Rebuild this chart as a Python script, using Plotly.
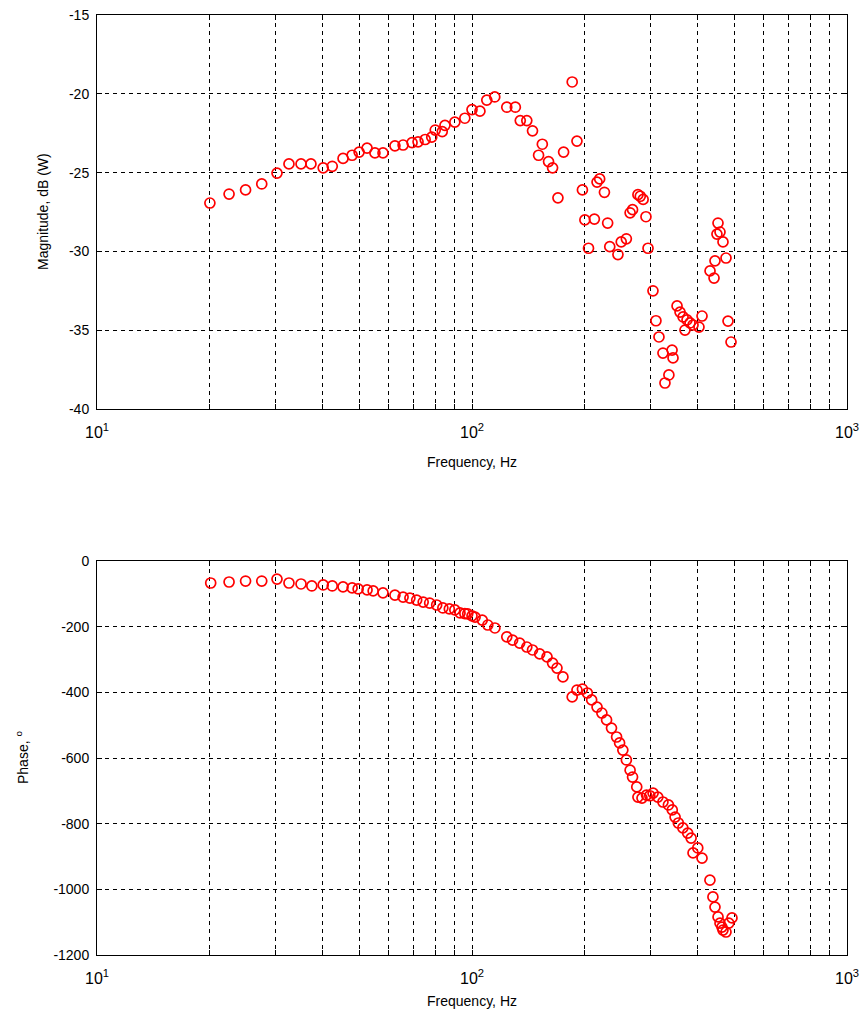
import plotly.graph_objects as go

# Magnitude data (Hz, dB)
mag_freq = [20.0, 22.5, 24.9, 27.5, 30.2, 32.5, 35.0, 37.2, 40.1, 42.4, 45.3, 47.9, 50.0, 52.5, 55.1,
            57.9, 62.3, 65.5, 69.2, 71.8, 75.0, 78.1, 79.8, 83.3, 84.7, 90.0, 95.7, 100, 105, 109.5,
            115, 123.8, 130.5, 134.5, 140, 145, 150.5, 154, 160, 164, 169.5, 175.5, 185, 190.5, 197,
            200, 204.5, 212, 215.5, 219, 225.5, 230, 233, 245, 250, 258, 264, 268, 277, 281,
            286, 291, 294.7, 303.8, 309.4, 315.2, 323, 327, 335, 341.6, 343.6, 352.2, 358.7, 365.5, 369.8,
            374.4, 381.4, 388.5, 403, 410.6, 431.3, 442, 444.6, 450, 452.9, 458.5, 467, 475.7, 481.6, 490.6]
mag_db = [-26.93, -26.36, -26.1, -25.72, -25.03, -24.45, -24.45, -24.45, -24.7, -24.6, -24.1, -23.9, -23.7, -23.45, -23.75,
          -23.75, -23.3, -23.25, -23.1, -23.05, -22.9, -22.75, -22.3, -22.4, -22.0, -21.8, -21.55, -21.0, -21.1, -20.4,
          -20.2, -20.85, -20.85, -21.7, -21.7, -22.35, -23.9, -23.2, -24.3, -24.7, -26.6, -23.7, -19.25, -23.0, -26.1,
          -28.0, -29.8, -27.95, -25.6, -25.4, -26.25, -28.2, -29.7, -30.2, -29.4, -29.2, -27.55, -27.35, -26.4, -26.5,
          -26.7, -27.8, -29.8, -32.5, -34.4, -35.43, -36.45, -38.35, -37.84, -36.26, -36.76, -33.46, -33.85, -34.16, -34.99,
          -34.35, -34.54, -34.67, -34.8, -34.1, -31.24, -31.69, -30.6, -28.9, -28.2, -28.77, -29.4, -30.42, -34.42, -35.75]

# Phase data (Hz, degrees)
ph_freq = [20.1, 22.5, 24.9, 27.5, 30.2, 32.5, 35.0, 37.4, 40.1, 42.4, 45.3, 47.9, 49.7, 52.5, 54.5,
           57.9, 62.3, 65.5, 68.3, 71.2, 74.1, 77.1, 80.5, 83.6, 87.0, 90.0, 92.9, 95.7, 97.4, 100.0,
           101.9, 106.5, 110.2, 115.1, 123.8, 128.3, 134.0, 140.0, 145.0, 151.5, 158.5, 164.0, 168.5, 174.8, 185.0,
           190.5, 197.0, 203.0, 208.5, 215.5, 222.0, 228.5, 235.5, 243.0, 247.5, 252.5, 258.0, 264.0, 268.0, 275.0,
           277.0, 284.0, 292.0, 298.0, 304.0, 313.0, 323.0, 334.0, 342.0, 348.0, 355.0, 365.0, 376.0, 384.0, 388.5,
           400.0, 410.6, 431.0, 439.0, 444.6, 453.0, 458.5, 464.0, 467.0, 475.7, 484.0, 493.5]
ph_deg = [-67, -64, -61, -61, -55, -67, -70, -76, -73, -76, -79, -82, -85, -88, -91,
          -97, -104, -110, -113, -119, -125, -128, -134, -143, -146, -149, -158, -160, -161, -167,
          -171, -180, -195, -204, -231, -241, -250, -262, -271, -283, -292, -311, -326, -353, -414,
          -393, -390, -402, -423, -445, -463, -484, -509, -536, -554, -576, -606, -637, -658, -688,
          -719, -722, -713, -715, -707, -719, -734, -743, -758, -780, -798, -813, -829, -844, -889,
          -874, -905, -972, -1023, -1054, -1084, -1103, -1115, -1124, -1130, -1103, -1087]

x_tickvals = [10, 20, 30, 40, 50, 60, 70, 80, 90, 100, 200, 300, 400, 500, 600, 700, 800, 900, 1000]
decade_labels = {10: "10<sup>1</sup>", 100: "10<sup>2</sup>", 1000: "10<sup>3</sup>"}
x_ticktext = [decade_labels.get(v, "") for v in x_tickvals]
mag_ticks = [-40, -35, -30, -25, -20, -15]
ph_ticks = [-1200, -1000, -800, -600, -400, -200, 0]

W, H = 865, 1016
fig = go.Figure()
marker = dict(symbol="circle-open", size=10, color="#ff0000", line=dict(width=1.7, color="#ff0000"))
fig.add_trace(go.Scatter(x=mag_freq, y=mag_db, mode="markers", marker=marker, xaxis="x", yaxis="y", showlegend=False))
fig.add_trace(go.Scatter(x=ph_freq, y=ph_deg, mode="markers", marker=marker, xaxis="x2", yaxis="y2", showlegend=False))

font = dict(family="Liberation Sans, Arial, sans-serif", size=14, color="#000000")
xfont = dict(family="Liberation Sans, Arial, sans-serif", size=16, color="#000000")
xd = [97 / W, 847 / W]
grid = dict(showgrid=True, gridcolor="#000000", gridwidth=1, griddash="4px,4px",
            showline=True, linecolor="#000000", linewidth=1, mirror="ticks",
            ticks="inside", ticklen=5, tickcolor="#000000", zeroline=False,
            automargin=False)
common_x = dict(type="log", range=[1, 3], tickmode="array", tickvals=x_tickvals, ticktext=x_ticktext,
                ticklabelstandoff=9, tickfont=xfont, domain=xd, **grid)
common_y = dict(tickmode="array", ticklabelstandoff=4, tickfont=font, **grid)

fig.update_layout(
    width=W, height=H, margin=dict(l=0, r=0, t=0, b=0),
    paper_bgcolor="#ffffff", plot_bgcolor="#ffffff",
    xaxis=dict(**common_x, anchor="y"),
    yaxis=dict(**common_y, range=[-40, -15], tickvals=mag_ticks, ticktext=[str(v) for v in mag_ticks],
               domain=[1 - 409 / H, 1 - 15 / H], anchor="x"),
    xaxis2=dict(**common_x, anchor="y2"),
    yaxis2=dict(**common_y, range=[-1200, 0], tickvals=ph_ticks, ticktext=[str(v) for v in ph_ticks],
                domain=[1 - 955 / H, 1 - 561 / H], anchor="x2"),
    annotations=[
        dict(text="Frequency, Hz", x=(97 + 847) / 2 / W, y=1 - 462 / H, xref="paper", yref="paper",
             showarrow=False, font=font, xanchor="center", yanchor="middle"),
        dict(text="Frequency, Hz", x=(97 + 847) / 2 / W, y=1 - 1001 / H, xref="paper", yref="paper",
             showarrow=False, font=font, xanchor="center", yanchor="middle"),
        dict(text="Magnitude, dB (W)", x=43 / W, y=1 - 212 / H, xref="paper", yref="paper",
             showarrow=False, font=font, textangle=-90, xanchor="center", yanchor="middle"),
        dict(text="Phase, <sup>o</sup>", x=22 / W, y=1 - 758 / H, xref="paper", yref="paper",
             showarrow=False, font=font, textangle=-90, xanchor="center", yanchor="middle"),
    ],
)

fig.write_html("out.html")
